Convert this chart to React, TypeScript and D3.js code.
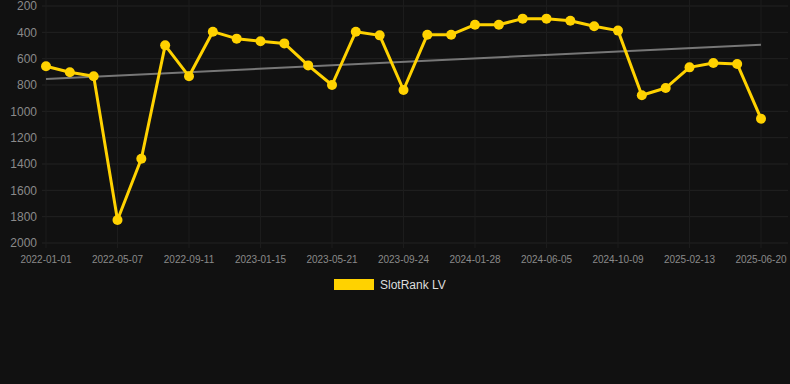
import { useEffect, useRef } from "react";
import * as d3 from "d3";

// SlotRank LV, one value per point (lower rank = better, axis reversed)
const rankValues = [
  658, 703, 734, 1825, 1360, 499, 734, 395, 448, 468, 484, 651, 800, 395, 423, 838,
  418, 418, 342, 342, 296, 296, 312, 354, 387, 878, 823, 666, 633, 640, 1056,
];

// labels shown under every third point
const tickLabels = [
  "2022-01-01", "2022-05-07", "2022-09-11", "2023-01-15", "2023-05-21", "2023-09-24",
  "2024-01-28", "2024-06-05", "2024-10-09", "2025-02-13", "2025-06-20",
];

const yTicks = [200, 400, 600, 800, 1000, 1200, 1400, 1600, 1800, 2000];

// trend line start / end values
const trendValues = [754, 494];

const seriesName = "SlotRank LV";

const App = () => {
  const ref = useRef<SVGSVGElement>(null);

  useEffect(() => {
    const width = 790;
    const height = 384;
    const svg = d3.select(ref.current);
    svg.selectAll("*").remove();

    svg.append("rect").attr("width", width).attr("height", height).attr("fill", "#111111");

    const x = d3
      .scaleLinear()
      .domain([0, rankValues.length - 1])
      .range([46, 761]);

    const y = d3.scaleLinear().domain([200, 2000]).range([6, 243]);

    // horizontal grid
    svg
      .append("g")
      .selectAll("line")
      .data(yTicks)
      .enter()
      .append("line")
      .attr("x1", 42)
      .attr("x2", 788)
      .attr("y1", (d) => y(d))
      .attr("y2", (d) => y(d))
      .attr("stroke", "#222222")
      .attr("stroke-width", 1);

    // vertical grid at labelled points
    svg
      .append("g")
      .selectAll("line")
      .data(tickLabels)
      .enter()
      .append("line")
      .attr("x1", (_, i) => x(i * 3))
      .attr("x2", (_, i) => x(i * 3))
      .attr("y1", 0)
      .attr("y2", 248)
      .attr("stroke", "#1c1c1c")
      .attr("stroke-width", 1);

    // y labels
    svg
      .append("g")
      .selectAll("text")
      .data(yTicks)
      .enter()
      .append("text")
      .attr("x", 37)
      .attr("y", (d) => y(d))
      .attr("dy", "0.35em")
      .attr("text-anchor", "end")
      .attr("font-family", "Arial, 'Liberation Sans', sans-serif")
      .attr("font-size", 12)
      .attr("fill", "#8a8a8a")
      .text((d) => d);

    // x labels
    svg
      .append("g")
      .selectAll("text")
      .data(tickLabels)
      .enter()
      .append("text")
      .attr("x", (_, i) => x(i * 3))
      .attr("y", 263)
      .attr("text-anchor", "middle")
      .attr("font-family", "Arial, 'Liberation Sans', sans-serif")
      .attr("font-size", 10)
      .attr("fill", "#8a8a8a")
      .text((d) => d);

    // trend line
    svg
      .append("line")
      .attr("x1", x(0))
      .attr("x2", x(rankValues.length - 1))
      .attr("y1", y(trendValues[0]))
      .attr("y2", y(trendValues[1]))
      .attr("stroke", "#777777")
      .attr("stroke-width", 2);

    const line = d3
      .line<number>()
      .x((_, i) => x(i))
      .y((d) => y(d));

    svg
      .append("path")
      .datum(rankValues)
      .attr("d", line)
      .attr("fill", "none")
      .attr("stroke", "#ffd200")
      .attr("stroke-width", 3)
      .attr("stroke-linejoin", "round");

    svg
      .append("g")
      .selectAll("circle")
      .data(rankValues)
      .enter()
      .append("circle")
      .attr("cx", (_, i) => x(i))
      .attr("cy", (d) => y(d))
      .attr("r", 5)
      .attr("fill", "#ffd200");

    // legend
    svg
      .append("rect")
      .attr("x", 334)
      .attr("y", 279)
      .attr("width", 40)
      .attr("height", 11)
      .attr("fill", "#ffd200");

    svg
      .append("text")
      .attr("x", 380)
      .attr("y", 285)
      .attr("dy", "0.35em")
      .attr("font-family", "Arial, 'Liberation Sans', sans-serif")
      .attr("font-size", 12)
      .attr("fill", "#dddddd")
      .text(seriesName);
  }, []);

  return (
    <svg
      ref={ref}
      width={790}
      height={384}
      style={{ position: "absolute", left: 0, top: 0, display: "block" }}
    />
  );
};

export default App;
